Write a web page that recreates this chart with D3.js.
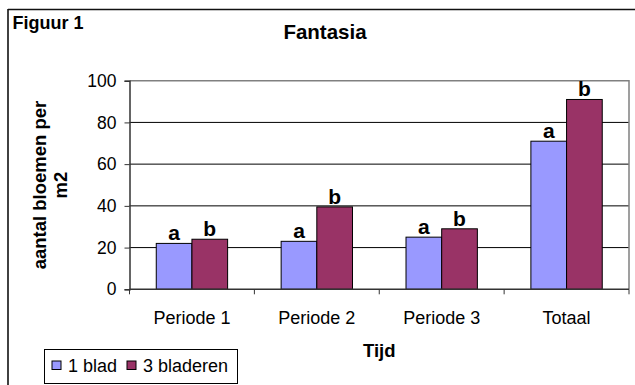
<!DOCTYPE html>
<html>
<head>
<meta charset="utf-8">
<script src="https://cdn.jsdelivr.net/npm/d3@7"></script>
<style>
  html, body { margin: 0; padding: 0; background: #fff; }
  svg { display: block; font-family: "Liberation Sans", Arial, sans-serif; }
</style>
</head>
<body>
<svg id="chart" width="635" height="385"></svg>
<script>
const categories = ["Periode 1", "Periode 2", "Periode 3", "Totaal"];
const seriesNames = ["1 blad", "3 bladeren"];
const blad1 = [22, 23, 25, 71];
const bladeren3 = [24, 39.5, 29, 91];
const labels1 = ["a", "a", "a", "a"];
const labels3 = ["b", "b", "b", "b"];
const yTicks = [0, 20, 40, 60, 80, 100];
const colors = ["#9999FF", "#993366"];

(function () {
const svg = d3.select("#chart");
const pL = 129.5, pR = 629, pT = 80.7, pB = 289.3;

const x = d3.scaleBand().domain(categories).range([pL, pR]).paddingInner(0).paddingOuter(0);
const bw = x.bandwidth() * 2 / 7; // gap width 150%
const y = d3.scaleLinear().domain([0, 100]).range([pB, pT]);

// outer frame
svg.append("line").attr("x1", 8).attr("x2", 8).attr("y1", 9).attr("y2", 390).attr("stroke", "#111").attr("stroke-width", 1.6);
svg.append("line").attr("x1", 8).attr("x2", 640).attr("y1", 9.5).attr("y2", 9.5).attr("stroke", "#111").attr("stroke-width", 1.6);

// gridlines
svg.append("g").selectAll("line").data(yTicks.filter(d => d > 0 && d < 100)).join("line")
  .attr("x1", pL).attr("x2", pR).attr("y1", d => y(d)).attr("y2", d => y(d))
  .attr("stroke", "#000").attr("stroke-width", 1);

// plot border (top, right)
svg.append("path")
  .attr("d", `M${pL},${pT}H${pR}V${pB}`)
  .attr("fill", "none").attr("stroke", "#808080").attr("stroke-width", 1.5);

// bars
const data = categories.map((c, i) => ({ c, vals: [blad1[i], bladeren3[i]], labs: [labels1[i], labels3[i]] }));
const groups = svg.append("g").selectAll("g").data(data).join("g");
groups.each(function(d) {
  const g = d3.select(this);
  const x0 = x(d.c) + (x.bandwidth() - 2 * bw) / 2;
  d.vals.forEach((v, k) => {
    g.append("rect")
      .attr("x", x0 + k * bw).attr("y", y(v))
      .attr("width", bw).attr("height", y(0) - y(v))
      .attr("fill", colors[k]).attr("stroke", "#000").attr("stroke-width", 1);
    g.append("text")
      .attr("x", x0 + k * bw + bw / 2).attr("y", y(v) - 3)
      .attr("text-anchor", "middle").attr("font-size", 21).attr("font-weight", "bold")
      .attr("fill", "#000").text(d.labs[k]);
  });
});

// y axis
const yAxis = d3.axisLeft(y).tickValues(yTicks).tickSize(5).tickPadding(8).tickFormat(d3.format("d"));
const ya = svg.append("g").attr("transform", `translate(${pL},0)`).call(yAxis);
ya.select(".domain").attr("stroke", "#333").attr("stroke-width", 1.5);
ya.selectAll(".tick line").attr("stroke", "#333");
ya.selectAll("text").attr("font-size", 17.5).attr("fill", "#000").attr("font-family", "Liberation Sans, Arial, sans-serif");

// x axis line and ticks at boundaries
svg.append("line").attr("x1", pL).attr("x2", pR).attr("y1", pB).attr("y2", pB).attr("stroke", "#333").attr("stroke-width", 1.5);
const bounds = categories.map(c => x(c)).concat([pR]);
svg.append("g").selectAll("line").data(bounds).join("line")
  .attr("x1", d => d).attr("x2", d => d).attr("y1", pB).attr("y2", pB + 5)
  .attr("stroke", "#333").attr("stroke-width", 1);
svg.append("g").selectAll("text").data(categories).join("text")
  .attr("x", d => x(d) + x.bandwidth() / 2).attr("y", 323.5)
  .attr("text-anchor", "middle").attr("font-size", 18).attr("fill", "#000").text(d => d);

// titles
svg.append("text").attr("x", 12.5).attr("y", 28.5).attr("font-size", 18).attr("font-weight", "bold").text("Figuur 1");
svg.append("text").attr("x", 325).attr("y", 39).attr("text-anchor", "middle").attr("font-size", 20.5).attr("font-weight", "bold").text("Fantasia");
svg.append("text").attr("x", (pL + pR) / 2).attr("y", 357).attr("text-anchor", "middle").attr("font-size", 18.5).attr("font-weight", "bold").text("Tijd");

const yl = svg.append("text").attr("transform", "translate(46,185) rotate(-90)")
  .attr("text-anchor", "middle").attr("font-size", 18.5).attr("font-weight", "bold");
yl.append("tspan").attr("x", 0).attr("y", 0).text("aantal bloemen per");
yl.append("tspan").attr("x", 0).attr("y", 20.5).text("m2");

// legend
const lg = svg.append("g");
lg.append("rect").attr("x", 44.5).attr("y", 349.5).attr("width", 193).attr("height", 34)
  .attr("fill", "#fff").attr("stroke", "#000").attr("stroke-width", 1);
const legX = [52, 127], legTX = [68, 143];
seriesNames.forEach((n, k) => {
  lg.append("rect").attr("x", legX[k]).attr("y", 361).attr("width", 9).attr("height", 8.5)
    .attr("fill", colors[k]).attr("stroke", "#000").attr("stroke-width", 1);
  lg.append("text").attr("x", legTX[k]).attr("y", 372).attr("font-size", 18).attr("fill", "#000").text(n);
});
})();
</script>
</body>
</html>
